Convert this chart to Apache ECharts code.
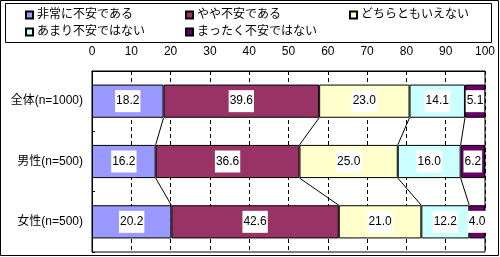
<!DOCTYPE html>
<html>
<head>
<meta charset="utf-8">
<script src="https://cdn.jsdelivr.net/npm/echarts@6/dist/echarts.min.js"></script>
<style>html,body{margin:0;padding:0;background:#fff}#c{width:500px;height:257px}</style>
</head>
<body>
<div id="c"></div>
<script>
const categories = ['全体(n=1000)', '男性(n=500)', '女性(n=500)'];
const seriesNames = ['非常に不安である', 'やや不安である', 'どちらともいえない', 'あまり不安ではない', 'まったく不安ではない'];
const v1 = [18.2, 16.2, 20.2];
const v2 = [39.6, 36.6, 42.6];
const v3 = [23.0, 25.0, 21.0];
const v4 = [14.1, 16.0, 12.2];
const v5 = [5.1, 6.2, 4.0];
const xTicks = [0, 10, 20, 30, 40, 50, 60, 70, 80, 90, 100];
const colors = ['#9999FF', '#993366', '#FFFFCC', '#CCFFFF', '#660066'];

const vals = [v1, v2, v3, v4, v5];
const FONT = '"Liberation Sans", "Noto Sans CJK JP", sans-serif';
const BAR_RATIO = 0.55;

const chart = echarts.init(document.getElementById('c'), null, {renderer: 'canvas'});

const barSeries = vals.map((v, k) => ({
  name: seriesNames[k],
  type: 'bar',
  stack: 'total',
  barWidth: (BAR_RATIO * 100) + '%',
  data: v,
  itemStyle: {color: colors[k], borderColor: '#000', borderWidth: 1},
  label: {
    show: true,
    position: 'inside',
    color: '#000',
    fontFamily: FONT,
    fontSize: 12,
    lineHeight: 12,
    backgroundColor: '#fff',
    padding: [5, 1],
    formatter: p => p.value.toFixed(1)
  },
  emphasis: {disabled: true},
  z: 3
}));

const connector = {
  type: 'custom',
  silent: true,
  clip: false,
  z: 4,
  encode: {x: 0, y: 1},
  data: [[0, 0], [0, 1]],
  renderItem: function (params, api) {
    const i = params.dataIndex;
    const bandH = api.size([0, 1])[1];
    const half = bandH * BAR_RATIO / 2;
    const children = [];
    let a = 0, b = 0;
    for (let k = 0; k < 4; k++) {
      a += vals[k][i];
      b += vals[k][i + 1];
      const p1 = api.coord([a, i]);
      const p2 = api.coord([b, i + 1]);
      children.push({
        type: 'line',
        shape: {x1: p1[0], y1: p1[1] + half, x2: p2[0], y2: p2[1] - half},
        style: {stroke: '#000', lineWidth: 1}
      });
    }
    return {type: 'group', children: children};
  }
};

const legendPos = [[25, 9], [185, 9], [349, 9], [25, 26], [185, 26]];
const legends = seriesNames.map((n, k) => ({
  data: [n],
  left: legendPos[k][0],
  top: legendPos[k][1],
  padding: 0,
  icon: 'rect',
  itemWidth: 7,
  itemHeight: 7,
  itemGap: 0,
  selectedMode: false,
  textStyle: {color: '#000', fontFamily: FONT, fontSize: 12, padding: [0, 0, 0, -1]}
}));

chart.setOption({
  animation: false,
  backgroundColor: '#fff',
  graphic: [
    {type: 'rect', shape: {x: 0.5, y: 0.5, width: 498, height: 255}, style: {fill: 'none', stroke: '#000', lineWidth: 1}, z: 0},
    {type: 'rect', shape: {x: 5.5, y: 3.5, width: 486, height: 39}, style: {fill: 'none', stroke: '#000', lineWidth: 1}, z: 0}
  ],
  legend: legends,
  grid: {left: 92, right: 15, top: 71, bottom: 5, show: true, borderColor: '#000', borderWidth: 1, backgroundColor: '#fff'},
  xAxis: {
    type: 'value',
    position: 'top',
    min: xTicks[0],
    max: xTicks[xTicks.length - 1],
    interval: xTicks[1] - xTicks[0],
    axisLine: {show: true, lineStyle: {color: '#000'}},
    axisTick: {show: false},
    axisLabel: {color: '#000', fontFamily: FONT, fontSize: 12, margin: 13},
    splitLine: {show: true, lineStyle: {color: '#000', type: [4, 3], width: 1}}
  },
  yAxis: {
    type: 'category',
    inverse: true,
    data: categories,
    axisLine: {show: true, lineStyle: {color: '#000'}},
    axisTick: {show: true, inside: true, length: 3, lineStyle: {color: '#000'}},
    axisLabel: {color: '#000', fontFamily: FONT, fontSize: 12, margin: 9}
  },
  series: barSeries.concat([connector])
});
</script>
</body>
</html>
